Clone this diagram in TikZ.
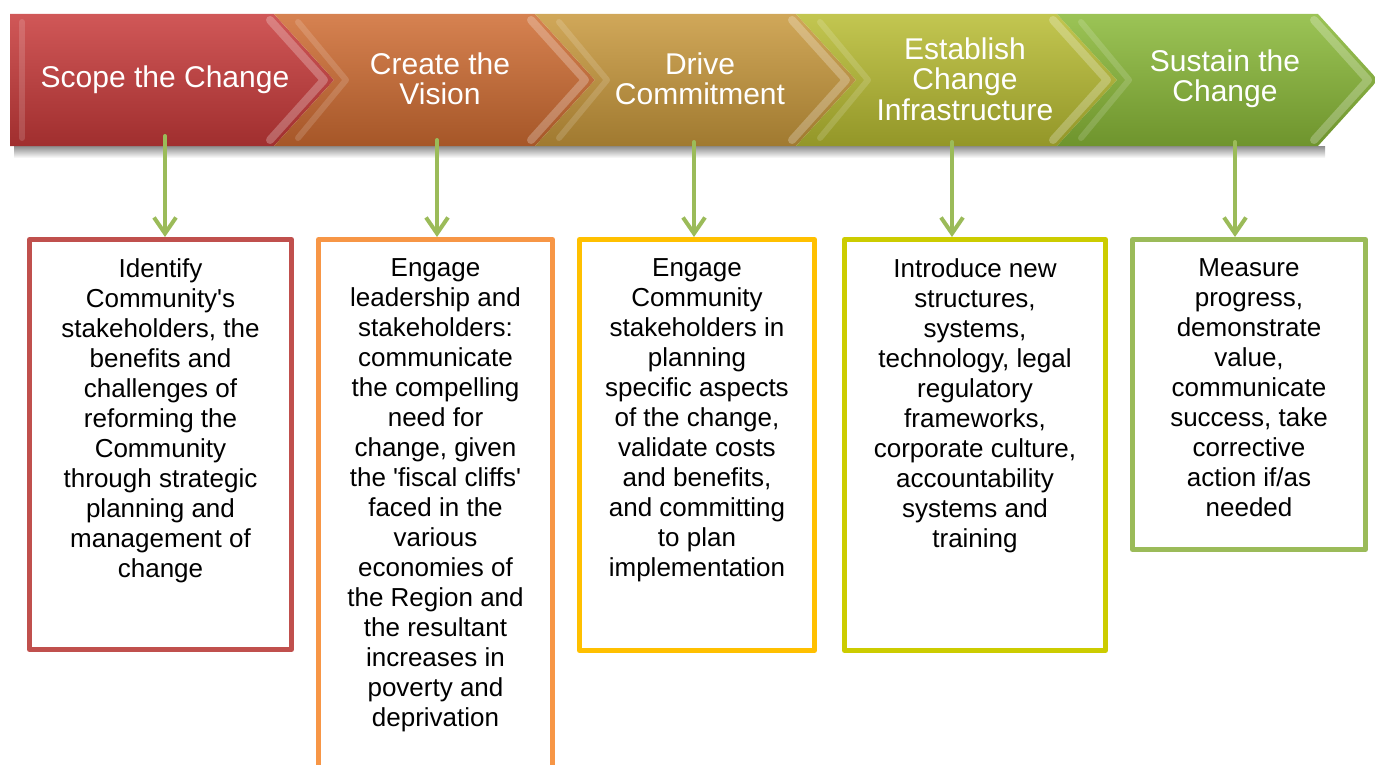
\documentclass[tikz,border=0pt]{standalone}
\usepackage{fontspec}
\setmainfont{Liberation Sans}
\usetikzlibrary{arrows.meta}
\definecolor{boxred}{RGB}{192,80,77}
\definecolor{boxorange}{RGB}{247,150,70}
\definecolor{boxgold}{RGB}{255,192,0}
\definecolor{boxolive}{RGB}{204,204,0}
\definecolor{boxgreen}{RGB}{155,187,89}
\definecolor{chred}{RGB}{200,58,58}
\definecolor{chorange}{RGB}{207,108,50}
\definecolor{chgold}{RGB}{200,152,60}
\definecolor{cholive}{RGB}{184,188,50}
\definecolor{chgreen}{RGB}{138,185,56}
\tikzset{
	stage/.style={text=white, align=center, font=\fontsize{15}{15.2}\selectfont},
	detail/.style={draw, line width=2.5pt, anchor=north},
	detailtext/.style={align=center, anchor=north, inner sep=0pt, font=\fontsize{13}{15}\selectfont},
	link/.style={draw=boxgreen, line width=2pt, -{Straight Barb[length=8pt,width=11pt]}}
}
\begin{document}
\begin{tikzpicture}[x=0.5pt, y=-0.5pt, line join=round, line cap=round]
	\useasboundingbox (0,0) rectangle (1375,765);
	\shade[top color=black!45, bottom color=white] (14,146) rectangle (1325,158);
	\foreach \i/\c in {0/chred,1/chorange,2/chgold,3/cholive,4/chgreen}{
		\pgfmathsetmacro\xr{274+261*\i}
		\pgfmathsetmacro\xl{\i==0 ? 10 : \xr-261}
		\pgfmathsetmacro\nd{\i==0 ? 0 : 60}
		\shade[top color=\c!85!white, bottom color=\c!80!black]
		(\xl,14) -- (\xr,14) -- (\xr+60,80) -- (\xr,146) -- (\xl,146) -- (\xl+\nd,80) -- cycle;
		\draw[white, opacity=0.25, line width=4pt]
		(\xr-4,20) -- (\xr+50,80) -- (\xr-4,140);
		\draw[white, opacity=0.15, line width=3pt]
		(\xl+\nd*0.2+12,22) -- (\xl+\nd+12,80) -- (\xl+\nd*0.2+12,138);
	}
	\node[stage] (st1) at (165,80) {Scope the Change};
	\node[stage] (st2) at (440,79) {Create the\\Vision};
	\node[stage] (st3) at (700,79) {Drive\\Commitment};
	\node[stage] (st4) at (965,79) {Establish\\Change\\Infrastructure};
	\node[stage] (st5) at (1225,79) {Sustain the\\Change};
	
	\node[detail, draw=boxred, minimum width=131pt, minimum height=205pt] (box1) at (160.5,237) {};
	\node[detail, draw=boxorange, minimum width=117pt, minimum height=276pt] (box2) at (435.5,237) {};
	\node[detail, draw=boxgold, minimum width=117.5pt, minimum height=205.5pt] (box3) at (697,237) {};
	\node[detail, draw=boxolive, minimum width=130.5pt, minimum height=205.5pt] (box4) at (975,237) {};
	\node[detail, draw=boxgreen, minimum width=116.5pt, minimum height=155pt] (box5) at (1249,237) {};
	
	\node[detailtext] (txt1) at ([yshift=-10.5pt]box1.north) {Identify\\Community\textquotesingle s\\stakeholders, the\\benefits and\\challenges of\\reforming the\\Community\\through strategic\\planning and\\management of\\change};
	\node[detailtext] (txt2) at ([yshift=-10.5pt]box2.north) {Engage\\leadership and\\stakeholders:\\communicate\\the compelling\\need for\\change, given\\the \textquotesingle fiscal cliffs\textquotesingle\\faced in the\\various\\economies of\\the Region and\\the resultant\\increases in\\poverty and\\deprivation};
	\node[detailtext] (txt3) at ([yshift=-10.5pt]box3.north) {Engage\\Community\\stakeholders in\\planning\\specific aspects\\of the change,\\validate costs\\and benefits,\\and committing\\to plan\\implementation};
	\node[detailtext] (txt4) at ([yshift=-10.5pt]box4.north) {Introduce new\\structures,\\systems,\\technology, legal\\regulatory\\frameworks,\\corporate culture,\\accountability\\systems and\\training};
	\node[detailtext] (txt5) at ([yshift=-10.5pt]box5.north) {Measure\\progress,\\demonstrate\\value,\\communicate\\success, take\\corrective\\action if/as\\needed};
	
	\path (165,136) coordinate (a1) (437,140) coordinate (a2) (694,142) coordinate (a3)
	(952,142) coordinate (a4) (1235,142) coordinate (a5);
	\foreach \n in {1,...,5}
	\draw[link] (a\n) -- (a\n |- box\n.north);
\end{tikzpicture}
\end{document}
